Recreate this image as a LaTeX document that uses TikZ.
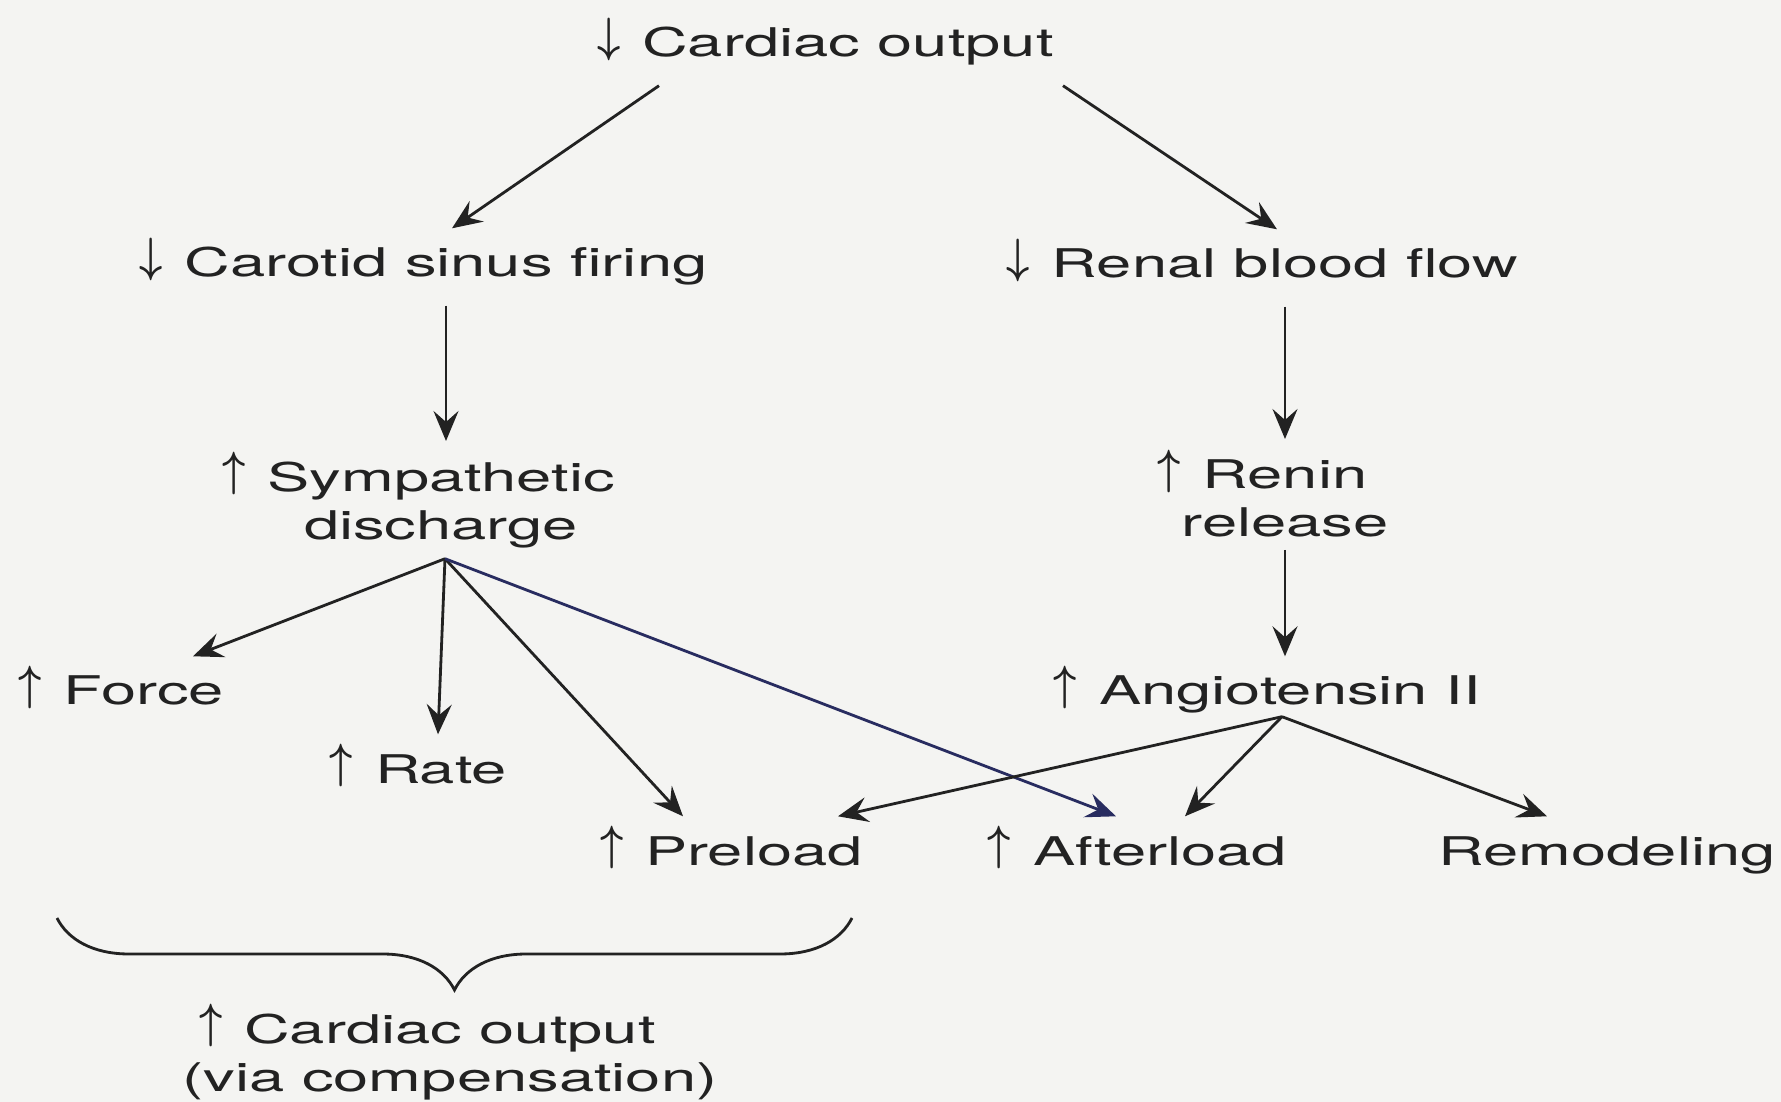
\documentclass[tikz,border=0pt]{standalone}
\usepackage{amsmath}
\usepackage{fontspec}
\newfontfamily\labelfont[FakeStretch=1.6]{TeX Gyre Heros}
\usetikzlibrary{arrows.meta,calc,decorations.pathreplacing}
\definecolor{ink}{RGB}{34,34,34}
\definecolor{paper}{RGB}{244,244,242}
\definecolor{inkblue}{RGB}{40,44,96}
\newcommand{\incr}{\llap{\raisebox{0.55mm}[0pt][0pt]{\scalebox{1.05}[1.25]{$\boldsymbol{\uparrow}$}}\hspace{2.2mm}}}
\newcommand{\decr}{\llap{\raisebox{0.55mm}[0pt][0pt]{\scalebox{1.05}[1.25]{$\boldsymbol{\downarrow}$}}\hspace{2.2mm}}}

\begin{document}
\begin{tikzpicture}[x=0.1mm,y=-0.1mm,
    every node/.style={font=\labelfont\fontsize{11.25pt}{13.7pt}\selectfont,text=ink}]
  \tikzset{
    term/.style={anchor=base,inner xsep=0pt,inner ysep=2mm,text height=2.8mm,text depth=0.8mm},
    stack/.style={anchor=north,inner xsep=0pt,inner ysep=2mm,align=center},
    link/.style={draw=ink,line width=0.8pt,-{Stealth[length=3mm,width=2.5mm,inset=1.1mm]}}
  }
  \useasboundingbox (0,0) rectangle (1781,1102);
  \fill[paper] (0,0) rectangle (1781,1102);

  % nodes
  \node[term] (cotop) at (848,57) {\decr Cardiac output};
  \node[term] (carotid) at (446,277) {\decr Carotid sinus firing};
  \node[term] (renal) at (1285,278) {\decr Renal blood flow};
  \node[stack] (symp) at (441,441) {\incr Sympathetic\\discharge};
  \node[stack] (renin) at (1285,439) {\incr Renin\\release};
  \node[term] (force) at (144,705) {\incr Force};
  \node[term] (angio) at (1290,705) {\incr Angiotensin II};
  \node[term] (rate) at (441,783) {\incr Rate};
  \node[term] (preload) at (754,865) {\incr Preload};
  \node[term] (afterload) at (1160,865) {\incr Afterload};
  \node[term] (remodel) at (1607,865) {Remodeling};
  \node[stack] (cobottom) at (450,993) {\incr Cardiac output\\(via compensation)};

  % connectors
  \draw[link] ($(cotop.south)+(-189,0)$) -- ($(carotid.north)+(6,0)$);
  \draw[link] ($(cotop.south)+(215,0)$) -- ($(renal.north)+(-8,0)$);
  \draw[link] (carotid.south) -- (carotid.south |- symp.north);
  \draw[link] (renal.south) -- (renal.south |- renin.north);
  \draw[link] ($(renin.south)+(0,-8)$) -- (renin.south |- angio.north);

  \coordinate (sfan) at ($(symp.south)+(4,-10)$);
  \coordinate (afan) at ($(angio.south)+(-8,-17)$);
  \foreach \n/\dx in {force/49,rate/-3,preload/-71}
    \draw[link] (sfan) -- ($(\n.north)+(\dx,0)$);
  \draw[link,draw=inkblue] (sfan) -- ($(afterload.north)+(-44,0)$);
  \foreach \n/\dx in {preload/84,afterload/25,remodel/-60}
    \draw[link] (afan) -- ($(\n.north)+(\dx,0)$);

  % brace over the compensating effects
  \draw[draw=ink,line width=0.8pt,decorate,decoration={brace,mirror,amplitude=7.2mm}]
    (57,918) -- (852,918);
\end{tikzpicture}
\end{document}
